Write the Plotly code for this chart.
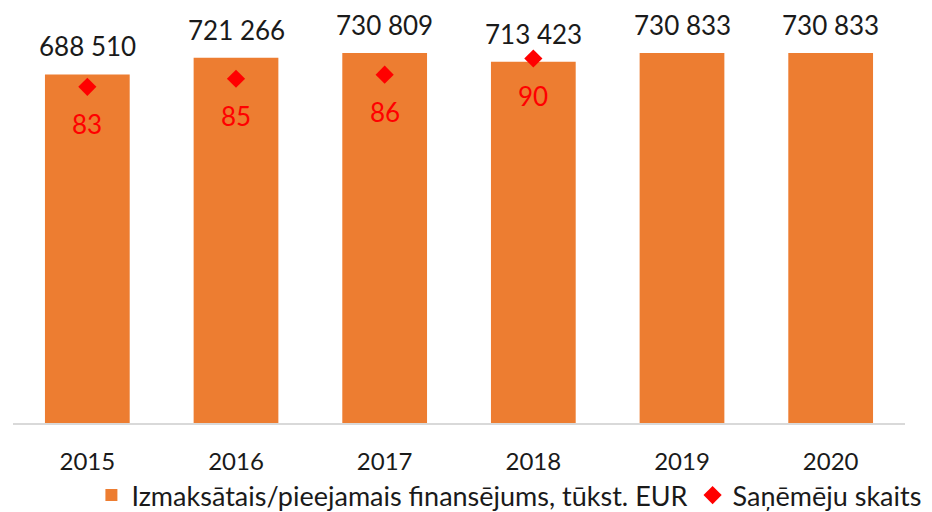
import plotly.graph_objects as go

years = ["2015", "2016", "2017", "2018", "2019", "2020"]
funding = [688510, 721266, 730809, 713423, 730833, 730833]
recipients = [83, 85, 86, 90, None, None]

funding_labels = [f"{v:,}".replace(",", " ") for v in funding]

FONT = "Lato, Calibri, 'Open Sans', sans-serif"

fig = go.Figure()
fig.add_trace(go.Bar(
    x=years, y=funding, name="Izmaksātais/pieejamais finansējums, tūkst. EUR",
    marker=dict(color="#ED7D31", line=dict(width=0)),
    width=0.57,
))
fig.add_trace(go.Scatter(
    x=years, y=recipients, name="Saņēmēju skaits", yaxis="y2",
    mode="markers", marker=dict(symbol="diamond", size=14, color="#FF0000"),
    cliponaxis=False,
))
# annotations on a category axis: use the category index as x
for i, (v, lab) in enumerate(zip(funding, funding_labels)):
    fig.add_annotation(x=i, y=v, xref="x", yref="y", text=lab, showarrow=False,
                       yanchor="middle", yshift=28,
                       font=dict(size=26, color="#1a1a1a", family=FONT))
for i, v in enumerate(recipients):
    if v is not None:
        fig.add_annotation(x=i, y=v, xref="x", yref="y2", text=str(v), showarrow=False,
                           yanchor="middle", yshift=-37,
                           font=dict(size=26, color="#FF0000", family=FONT))

# the page body adds an 8 px margin, so the figure is 8 px smaller each way
fig.update_layout(
    width=924, height=504,
    margin=dict(l=5, r=27, t=10, b=89, autoexpand=False),
    paper_bgcolor="white", plot_bgcolor="white",
    font=dict(family=FONT, size=24, color="#1a1a1a"),
    xaxis=dict(type="category", showline=True, linecolor="#D9D9D9", linewidth=2, ticks="",
               ticklabelstandoff=16, tickfont=dict(size=24), showgrid=False,
               range=[-0.5, 5.5]),
    yaxis=dict(range=[0, 800000], visible=False, showgrid=False),
    yaxis2=dict(range=[0, 100], overlaying="y", visible=False, showgrid=False),
    showlegend=True,
    legend=dict(orientation="h", x=1.024, xanchor="right", y=-0.179, yanchor="middle",
                font=dict(size=27), itemwidth=30, tracegroupgap=0),
)
fig.write_html("out.html")
